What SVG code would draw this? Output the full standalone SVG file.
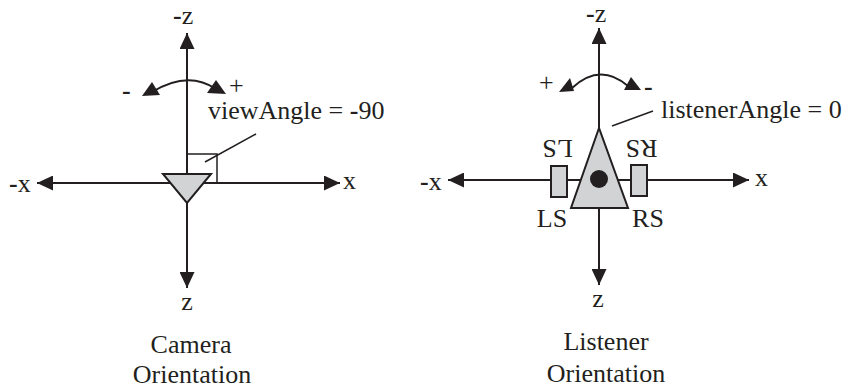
<svg xmlns="http://www.w3.org/2000/svg" width="848" height="389" viewBox="0 0 848 389">
  <style>
    .ax { stroke: #231f20; stroke-width: 2; fill: none; }
    .thin { stroke: #231f20; stroke-width: 1.5; fill: none; }
    .shape { fill: #d1d3d4; stroke: #231f20; stroke-width: 2; }
    .head { fill: #231f20; stroke: none; }
    text { font-family: "Liberation Serif", "Times New Roman", serif; font-size: 26px; fill: #231f20; }
    .mid { text-anchor: middle; }
    .b { font-weight: bold; }
  </style>
  <defs>
    <marker id="arr" markerUnits="userSpaceOnUse" markerWidth="16" markerHeight="15" refX="16" refY="7.5" orient="auto">
      <path d="M0,0 L16,7.5 L0,15 z" fill="#231f20"/>
    </marker>
  </defs>

  <rect width="848" height="389" fill="#ffffff"/>

  <g id="connectors">
    <!-- camera axes -->
    <line class="ax" x1="187" y1="183" x2="187" y2="33" marker-end="url(#arr)"/>
    <line class="ax" x1="187" y1="183" x2="37" y2="183" marker-end="url(#arr)"/>
    <line class="ax" x1="187" y1="183" x2="340" y2="183" marker-end="url(#arr)"/>
    <line class="ax" x1="187" y1="200" x2="187" y2="288" marker-end="url(#arr)"/>
    <!-- camera rotation arc -->
    <path class="ax" d="M152,92 Q188,70 216,89"/>
    <polygon class="head" points="142,96 152,82 160,95"/>
    <polygon class="head" points="207,93 216,80 226,94"/>
    <!-- right-angle mark and leader -->
    <polyline class="thin" points="188,154 217,154 217,183"/>
    <line class="thin" x1="205" y1="162" x2="256" y2="134"/>

    <!-- listener axes -->
    <line class="ax" x1="599" y1="130" x2="599" y2="28" marker-end="url(#arr)"/>
    <line class="ax" x1="599" y1="180" x2="448" y2="180" marker-end="url(#arr)"/>
    <line class="ax" x1="599" y1="180" x2="749" y2="180" marker-end="url(#arr)"/>
    <line class="ax" x1="599" y1="206" x2="599" y2="285" marker-end="url(#arr)"/>
    <!-- listener rotation arc -->
    <path class="ax" d="M572,88 Q600,62 628,86"/>
    <polygon class="head" points="559,92 570,78 574,91"/>
    <polygon class="head" points="624,90 631,77 641,90"/>
    <!-- leader -->
    <line class="thin" x1="612" y1="126" x2="653" y2="111"/>
  </g>

  <g id="camera">
    <polygon class="shape" points="163,174 211,174 187,203"/>
  </g>

  <g id="listener">
    <rect id="left-speaker" class="shape" x="551" y="166" width="16" height="31"/>
    <rect id="right-speaker" class="shape" x="631" y="165" width="16" height="31"/>
    <polygon class="shape" points="599,128 571,208 628,208"/>
    <circle cx="599" cy="179" r="9" fill="#231f20"/>
  </g>

  <g id="camera-labels">
    <text x="173" y="24"><tspan class="b">-</tspan>z</text>
    <text x="9" y="192"><tspan class="b">-</tspan>x</text>
    <text x="343" y="189">x</text>
    <text class="mid" x="187" y="310">z</text>
    <text class="b" x="122" y="99">-</text>
    <text x="229" y="94">+</text>
    <text x="208" y="119">viewAngle = <tspan class="b">-</tspan>90</text>
    <text class="mid" x="191" y="353">Camera</text>
    <text class="mid" x="192" y="383">Orientation</text>
  </g>

  <g id="listener-labels">
    <text x="586" y="22"><tspan class="b">-</tspan>z</text>
    <text x="420" y="190"><tspan class="b">-</tspan>x</text>
    <text x="755" y="186">x</text>
    <text class="mid" x="598" y="307">z</text>
    <text x="539" y="91">+</text>
    <text class="b" x="644" y="95">-</text>
    <text x="661" y="118">listenerAngle = 0</text>
    <text class="mid" transform="rotate(180 557.5 148)" x="557.5" y="156.5">LS</text>
    <text class="mid" transform="rotate(180 641.5 148)" x="641.5" y="156.5">RS</text>
    <text class="mid" x="552" y="227">LS</text>
    <text class="mid" x="648" y="227">RS</text>
    <text class="mid" x="606" y="350">Listener</text>
    <text class="mid" x="606" y="382">Orientation</text>
  </g>
</svg>
